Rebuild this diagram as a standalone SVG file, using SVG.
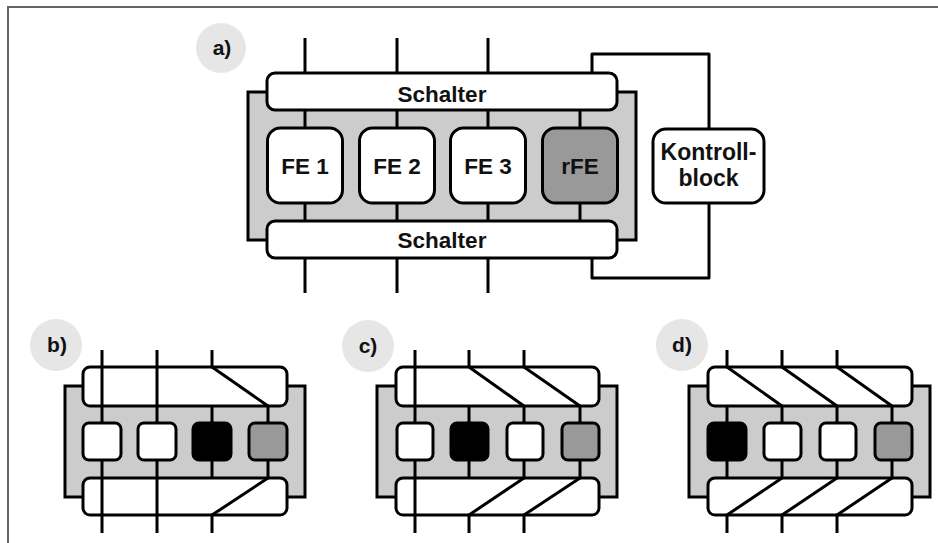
<svg xmlns="http://www.w3.org/2000/svg" width="938" height="543" viewBox="0 0 938 543">
<style>
.bg{fill:#ffffff}
.frame{fill:none;stroke:#666666;stroke-width:2}
.gray{fill:#cccccc;stroke:#000;stroke-width:3}
.sw{fill:#ffffff;stroke:#000;stroke-width:3}
.fe{fill:#ffffff;stroke:#000;stroke-width:3}
.rfe{fill:#999999;stroke:#000;stroke-width:3}
.blk{fill:#000000;stroke:#000;stroke-width:3}
.ln{fill:none;stroke:#000;stroke-width:3;stroke-linejoin:round}
.lbl{fill:#e6e6e6}
text{font-family:"Liberation Sans",Arial,sans-serif;font-weight:bold;fill:#111;text-anchor:middle}
.t{font-size:22.5px}
.k{font-size:23px}
.l{font-size:21px}
</style>
<rect class="bg" x="0" y="0" width="938" height="543"/>
<path class="frame" d="M8,543 V7 H938"/>

<!-- Panel a -->
<g id="label-a"><circle class="lbl" cx="221" cy="48" r="25"/><text class="l" x="222" y="55">a)</text></g>
<g id="a-body"><rect class="gray" x="248" y="92" width="388" height="148"/></g>
<g id="a-connectors">
<path class="ln" d="M305,38 V293 M397,38 V293 M488,38 V293 M580,110 V221"/>
<path class="ln" d="M592,73 V54 H709 V129 M709,203 V278 H592 V258"/>
</g>
<g id="a-switch-top"><rect class="sw" x="267" y="73" width="350" height="37" rx="8"/><text class="t" x="442" y="102">Schalter</text></g>
<g id="a-switch-bottom"><rect class="sw" x="267" y="221" width="350" height="37" rx="8"/><text class="t" x="442" y="248">Schalter</text></g>
<g id="fe1"><rect class="fe" x="267.5" y="128" width="75" height="75" rx="13"/><text class="t" x="305" y="174">FE 1</text></g>
<g id="fe2"><rect class="fe" x="359.5" y="128" width="75" height="75" rx="13"/><text class="t" x="397" y="174">FE 2</text></g>
<g id="fe3"><rect class="fe" x="450.5" y="128" width="75" height="75" rx="13"/><text class="t" x="488" y="174">FE 3</text></g>
<g id="rfe"><rect class="rfe" x="542.5" y="128" width="75" height="75" rx="13"/><text class="t" x="580" y="174">rFE</text></g>
<g id="kontrollblock"><rect class="fe" x="653" y="129" width="111" height="74" rx="13"/><text class="k" x="708.5" y="160">Kontroll-</text><text class="k" x="708.5" y="186">block</text></g>

<!-- Panel b -->
<g id="panel-b">
<circle class="lbl" cx="56" cy="345" r="26"/><text class="l" x="57" y="352">b)</text>
<rect class="gray" x="65" y="386" width="240" height="111"/>
<rect class="sw" x="83" y="367" width="204" height="39" rx="7"/>
<rect class="sw" x="83" y="478" width="204" height="37" rx="7"/>
<g id="b-connectors">
<path class="ln" d="M102,350 V533 M157,350 V533 M212,350 V367 L268,406 V478 L212,515 V533 M212,406 V478"/>
</g>
<rect class="fe" x="83" y="423" width="38" height="37" rx="6"/>
<rect class="fe" x="138" y="423" width="38" height="37" rx="6"/>
<rect class="blk" x="193" y="423" width="38" height="37" rx="6"/>
<rect class="rfe" x="249" y="423" width="38" height="37" rx="6"/>
</g>

<!-- Panel c -->
<g id="panel-c" transform="translate(312,0)">
<circle class="lbl" cx="56" cy="346" r="26"/><text class="l" x="56" y="353">c)</text>
<rect class="gray" x="65" y="386" width="240" height="111"/>
<rect class="sw" x="84" y="367" width="203" height="39" rx="7"/>
<rect class="sw" x="84" y="478" width="203" height="37" rx="7"/>
<g id="c-connectors">
<path class="ln" d="M103,350 V533 M157,350 V367 L212,406 V478 L157,515 V533 M212,350 V367 L268,406 V478 L212,515 V533 M157,406 V478"/>
</g>
<rect class="fe" x="85" y="423" width="36" height="37" rx="6"/>
<rect class="blk" x="139" y="423" width="37" height="37" rx="6"/>
<rect class="fe" x="195" y="423" width="36" height="37" rx="6"/>
<rect class="rfe" x="250" y="423" width="37" height="37" rx="6"/>
</g>

<!-- Panel d -->
<g id="panel-d" transform="translate(624,0)">
<circle class="lbl" cx="58" cy="345" r="26"/><text class="l" x="58" y="352">d)</text>
<rect class="gray" x="65" y="386" width="241" height="111"/>
<rect class="sw" x="84" y="367" width="204" height="39" rx="7"/>
<rect class="sw" x="84" y="478" width="204" height="37" rx="7"/>
<g id="d-connectors">
<path class="ln" d="M103,350 V367 L158,406 V478 L103,515 V533 M158,350 V367 L213,406 V478 L158,515 V533 M213,350 V367 L268,406 V478 L213,515 V533 M103,406 V478"/>
</g>
<rect class="blk" x="84" y="423" width="38" height="37" rx="6"/>
<rect class="fe" x="140" y="423" width="37" height="37" rx="6"/>
<rect class="fe" x="196" y="423" width="36" height="37" rx="6"/>
<rect class="rfe" x="251" y="423" width="37" height="37" rx="6"/>
</g>
</svg>
